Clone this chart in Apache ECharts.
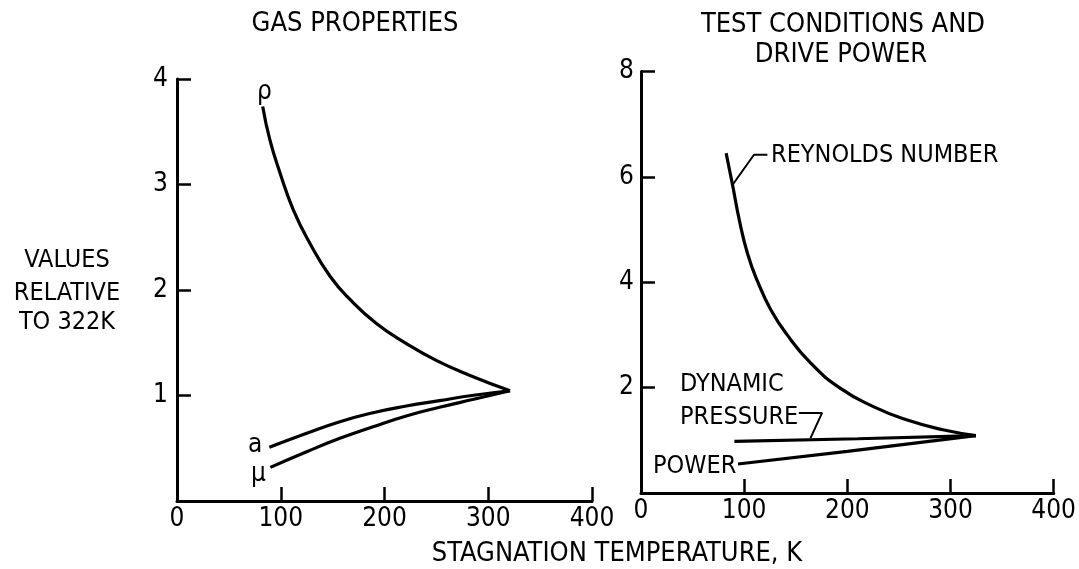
<!DOCTYPE html>
<html>
<head>
<meta charset="utf-8">
<script src="https://cdn.jsdelivr.net/npm/echarts@6/dist/echarts.min.js"></script>
<style>
  html, body { margin: 0; padding: 0; background: #fff; }
  #chart { width: 1079px; height: 569px; }
</style>
</head>
<body>
<div id="chart"></div>
<script>
// gas properties (left panel), temperature in K, value relative to 322K
const rhoT = [82.6, 89.6, 99.3, 112.1, 128.2, 147.5, 166.7, 192.5, 221.4, 250.3, 282.4, 321];
const rhoV = [3.74, 3.42, 3.11, 2.76, 2.44, 2.13, 1.91, 1.68, 1.49, 1.33, 1.19, 1.045];
const aT = [89, 125, 157, 189, 221, 253, 286, 321];
const aV = [0.509, 0.642, 0.752, 0.837, 0.900, 0.951, 1.002, 1.045];
const muT = [90, 125, 157, 189, 221, 253, 286, 321];
const muV = [0.319, 0.467, 0.594, 0.704, 0.806, 0.888, 0.964, 1.045];

// test conditions and drive power (right panel)
const reT = [82.5, 88.8, 95.3, 103.3, 112.9, 125.8, 141, 164.3, 193, 225.2, 257.3, 292.6, 324.6];
const reV = [6.45, 5.84, 5.18, 4.54, 4.02, 3.48, 3.02, 2.47, 1.99, 1.64, 1.39, 1.20, 1.09];
const dpT = [90.5, 210, 324.6];
const dpV = [0.98, 1.03, 1.09];
const powT = [94, 200, 324.6];
const powV = [0.55, 0.79, 1.09];

// leader lines for the labels (right panel)
const reLeadT = [122.5, 109.5, 89.5];
const reLeadV = [6.42, 6.42, 5.87];
const dpLeadT = [153, 175.5, 164.3];
const dpLeadV = [1.52, 1.52, 1.04];

const xTicks = [0, 100, 200, 300, 400];

const FONT = '"Liberation Sans Narrow", "DejaVu Sans Condensed", "Arial Narrow", sans-serif';
const pair = (xs, ys) => xs.map((x, i) => [x, ys[i]]);

function curve(name, xs, ys, idx, smooth) {
    return {
        name: name,
        type: 'line',
        xAxisIndex: idx,
        yAxisIndex: idx,
        data: pair(xs, ys),
        smooth: smooth,
        showSymbol: false,
        lineStyle: { color: '#000', width: 3.2 },
        silent: true
    }
}
function leader(xs, ys) {
    return {
        type: 'line',
        xAxisIndex: 1,
        yAxisIndex: 1,
        data: pair(xs, ys),
        showSymbol: false,
        lineStyle: { color: '#000', width: 2 },
        silent: true
    }
}

const axisLine = { lineStyle: { color: '#000', width: 3 } };
const tick = { inside: true, length: 14, lineStyle: { color: '#000', width: 2.5 } };

function xAxisOf(idx) {
    return {
        gridIndex: idx, type: 'value', min: xTicks[0], max: xTicks[xTicks.length - 1], interval: 100,
        axisLine: axisLine, axisTick: tick, splitLine: { show: false },
        axisLabel: { color: '#000', fontSize: 26, fontFamily: FONT, margin: 5 }
    }
}
function yAxisOf(idx, max, step, margin) {
    return {
        gridIndex: idx, type: 'value', min: 0, max: max, interval: step,
        axisLine: axisLine, axisTick: tick, splitLine: { show: false },
        axisLabel: {
            color: '#000', fontSize: 26, fontFamily: FONT, margin: margin,
            formatter: v => v === 0 ? '' : String(v)
        }
    }
}

function txt(s, x, y, size, align) {
    return {
        type: 'text', x: x, y: y,
        style: {
            text: s, fill: '#000', font: size + 'px ' + FONT,
            textAlign: align || 'left', textVerticalAlign: 'middle'
        }
    }
}

const chart = echarts.init(document.getElementById('chart'));
chart.setOption({
    animation: false,
    backgroundColor: '#fff',
    grid: [
        { left: 177, right: 487, top: 79, bottom: 68 },
        { left: 641, right: 22, top: 71.5, bottom: 76 }
    ],
    xAxis: [xAxisOf(0), xAxisOf(1)],
    yAxis: [yAxisOf(0, 4, 1, 9), yAxisOf(1, 8, 2, 7)],
    series: [
        curve('ρ', rhoT, rhoV, 0, 0.5),
        curve('a', aT, aV, 0, 0.5),
        curve('μ', muT, muV, 0, 0.5),
        curve('REYNOLDS NUMBER', reT, reV, 1, 0.5),
        curve('DYNAMIC PRESSURE', dpT, dpV, 1, false),
        curve('POWER', powT, powV, 1, false),
        leader(reLeadT, reLeadV),
        leader(dpLeadT, dpLeadV)
    ],
    graphic: [
        txt('GAS PROPERTIES', 355, 24, 27, 'center'),
        txt('TEST CONDITIONS AND', 843, 25, 27, 'center'),
        txt('DRIVE POWER', 841, 55, 27, 'center'),
        txt('VALUES', 67, 260, 25, 'center'),
        txt('RELATIVE', 67, 293, 25, 'center'),
        txt('TO 322K', 67, 322, 25, 'center'),
        txt('STAGNATION TEMPERATURE, K', 617, 554, 27, 'center'),
        txt('ρ', 257, 92, 26),
        txt('a', 248, 445, 26),
        txt('μ', 251, 474, 26),
        txt('REYNOLDS NUMBER', 771, 155, 25),
        txt('DYNAMIC', 680, 384, 25),
        txt('PRESSURE', 680, 417, 25),
        txt('POWER', 653, 466, 25)
    ]
});
</script>
</body>
</html>
